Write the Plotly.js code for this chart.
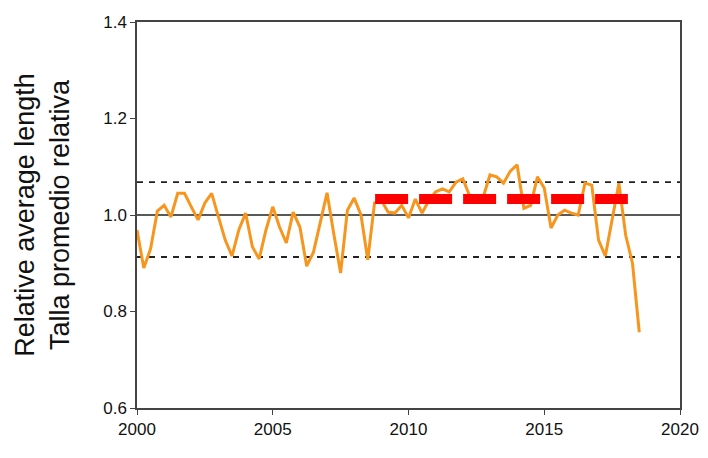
<!DOCTYPE html>
<html>
<head>
<script src="https://cdn.plot.ly/plotly-3.0.1.min.js"></script>
<style>body{margin:0}</style>
</head>
<body>
<div id="divPlot" style="width:708px;height:458px"></div>
<script>
// Quarterly relative average length, 2000.00 to 2018.50
var startYear = 2000;
var lengths = [0.969,0.89,0.93,1.008,1.02,0.996,1.045,1.045,1.017,0.99,1.025,1.045,
  0.996,0.948,0.915,0.969,1.004,0.934,0.909,0.969,1.017,0.975,0.942,1.006,0.975,
  0.894,0.923,0.985,1.046,0.96,0.88,1.01,1.035,1.0,0.907,1.025,1.03,
  1.006,1.004,1.02,0.994,1.033,1.004,1.03,1.048,1.054,1.048,1.068,1.075,1.04,1.03,
  1.037,1.083,1.079,1.066,1.091,1.104,1.014,1.02,1.079,1.056,0.973,1.0,1.01,1.004,
  1.0,1.066,1.062,0.948,0.915,0.99,1.066,0.958,0.9,0.757];
var years = lengths.map(function (v, i) { return startYear + i * 0.25; });

var meanLevel = 1.0;
var upperLimit = 1.068, lowerLimit = 0.913;
var refYears = [2008.77, 2018.08];
var refLevel = 1.033;

var series = {
  x : years, y : lengths, mode : 'lines', type : 'scatter',
  line : {color : '#f7961e', width : 3}, hoverinfo : 'x+y'
};
var ref = {
  x : refYears, y : [refLevel, refLevel], mode : 'lines', type : 'scatter',
  line : {color : '#ff0000', width : 10, dash : '33px,11px'}
};

function hline(y, dash, width) {
  return {type : 'line', xref : 'paper', x0 : 0, x1 : 1, y0 : y, y1 : y,
          line : {color : '#222', width : width, dash : dash}, layer : 'below'};
}

var layout = {
  width : 708, height : 458, showlegend : false,
  margin : {l : 137, r : 28, t : 22, b : 50},
  paper_bgcolor : 'white', plot_bgcolor : 'white',
  font : {family : 'Liberation Sans, Arial, sans-serif', color : '#111'},
  xaxis : {range : [2000, 2020], dtick : 5, tick0 : 2000, showgrid : false,
           zeroline : false, showline : true, mirror : true, linecolor : '#444',
           linewidth : 1.5, ticks : 'outside', ticklen : 5, tickfont : {size : 17}},
  yaxis : {range : [0.6, 1.4], dtick : 0.2, tickformat : '.1f', showgrid : false,
           zeroline : false, showline : true, mirror : true, linecolor : '#444',
           linewidth : 1.5, ticks : 'outside', ticklen : 5, tickfont : {size : 17},
           title : {text : 'Relative average length<br>Talla promedio relativa',
                    font : {size : 27}, standoff : 26}},
  shapes : [hline(meanLevel, 'solid', 1.5), hline(upperLimit, '6px,6px', 1.8),
            hline(lowerLimit, '6px,6px', 1.8)]
};
Plotly.newPlot('divPlot', [series, ref], layout, {displayModeBar : false});
</script>
</body>
</html>
